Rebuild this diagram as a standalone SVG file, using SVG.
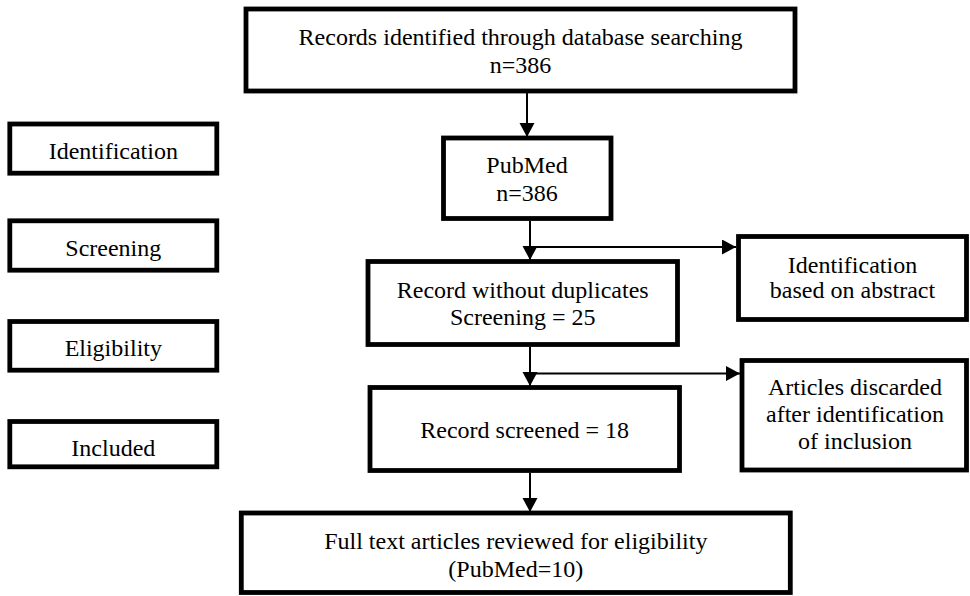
<svg xmlns="http://www.w3.org/2000/svg" width="970" height="596" viewBox="0 0 970 596">
<defs>
<style>
.box{fill:#fff;stroke:#000;stroke-width:4.8}
.t{font-family:'Liberation Serif','Tinos','DejaVu Serif','Noto Serif',serif;font-size:24px;fill:#000;text-anchor:middle}
.c{stroke:#000;stroke-width:2;fill:none}
</style>
<marker id="ah" markerUnits="userSpaceOnUse" markerWidth="16" markerHeight="16" refX="14" refY="7.5" orient="auto">
<path d="M0,0 L14,7.5 L0,15 Z" fill="#000"/>
</marker>
</defs>
<rect width="970" height="596" fill="#fff"/>
<g id="connectors">
<line class="c" x1="527" y1="93" x2="527" y2="137" marker-end="url(#ah)"/>
<line class="c" x1="530" y1="221" x2="530" y2="260" marker-end="url(#ah)"/>
<line class="c" x1="530" y1="247" x2="736" y2="247" marker-end="url(#ah)"/>
<line class="c" x1="530" y1="347" x2="530" y2="386" marker-end="url(#ah)"/>
<line class="c" x1="530" y1="373.5" x2="740" y2="373.5" marker-end="url(#ah)"/>
<line class="c" x1="530" y1="473" x2="530" y2="512" marker-end="url(#ah)"/>
</g>
<g id="records-identified">
<rect class="box" x="246" y="9" width="549" height="82"/>
<text class="t" x="520.5" y="45" font-family="Liberation Serif, serif">Records identified through database searching</text>
<text class="t" x="520.5" y="73">n=386</text>
</g>
<g id="pubmed">
<rect class="box" x="443.5" y="138" width="167.5" height="80.5"/>
<text class="t" x="527" y="173">PubMed</text>
<text class="t" x="527" y="201">n=386</text>
</g>
<g id="record-without-duplicates">
<rect class="box" x="368" y="261.5" width="309.5" height="83"/>
<text class="t" x="522.7" y="298">Record without duplicates</text>
<text class="t" x="522.7" y="325">Screening = 25</text>
</g>
<g id="identification-abstract">
<rect class="box" x="738.5" y="236.5" width="228" height="83"/>
<text class="t" x="852.5" y="273">Identification</text>
<text class="t" x="852.5" y="298">based on abstract</text>
</g>
<g id="record-screened">
<rect class="box" x="370" y="387.5" width="309.5" height="83"/>
<text class="t" x="524.7" y="438">Record screened = 18</text>
</g>
<g id="articles-discarded">
<rect class="box" x="742" y="360.5" width="224.5" height="109.5"/>
<text class="t" x="855" y="395">Articles discarded</text>
<text class="t" x="855" y="422.3">after identification</text>
<text class="t" x="855" y="449.3">of inclusion</text>
</g>
<g id="full-text">
<rect class="box" x="241.3" y="513" width="549" height="79.5"/>
<text class="t" x="515.8" y="549.3">Full text articles reviewed for eligibility</text>
<text class="t" x="515.8" y="576.7">(PubMed=10)</text>
</g>
<g id="stage-identification">
<rect class="box" x="9.8" y="124" width="207" height="49.2"/>
<text class="t" x="113.3" y="159.3">Identification</text>
</g>
<g id="stage-screening">
<rect class="box" x="9.8" y="220.8" width="207" height="49.4"/>
<text class="t" x="113.3" y="256">Screening</text>
</g>
<g id="stage-eligibility">
<rect class="box" x="9.8" y="321.5" width="207" height="48.7"/>
<text class="t" x="113.3" y="356">Eligibility</text>
</g>
<g id="stage-included">
<rect class="box" x="9.8" y="421.5" width="207" height="45.3"/>
<text class="t" x="113.3" y="456">Included</text>
</g>
</svg>
